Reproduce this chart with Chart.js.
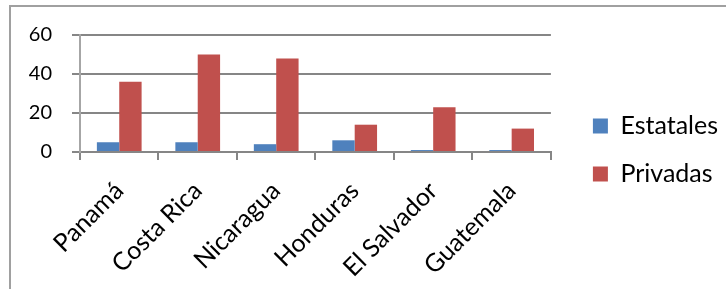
<!DOCTYPE html>
<html>
<head>
<meta charset="utf-8">
<script src="https://cdn.jsdelivr.net/npm/chart.js@4"></script>
<style>
  html, body { margin: 0; padding: 0; background: #fff; }
  #wrap { position: relative; width: 726px; height: 289px; overflow: hidden; }
  #frame { position: absolute; left: 9px; top: 5px; width: 800px; height: 400px;
           border-left: 2px solid #a0a0a0; border-top: 2px solid #a0a0a0; }
  canvas { position: absolute; left: 0; top: 0; }
</style>
</head>
<body>
<div id="wrap">
  <div id="frame"></div>
  <canvas id="chart" width="726" height="289"></canvas>
</div>
<script>
// Data
const countries = ['Panamá', 'Costa Rica', 'Nicaragua', 'Honduras', 'El Salvador', 'Guatemala'];
const estatales = [5, 5, 4, 6, 1, 1];
const privadas = [36, 50, 48, 14, 23, 12];
const yTicks = [0, 20, 40, 60];

const fontFamily = 'Lato, "Open Sans", sans-serif';
const gridColor = '#868686';

// nudge legend right and up like the original
const legendShift = {
    id: 'legendShift',
    afterLayout(chart) {
        const lg = chart.legend;
        lg.left += 19;
        lg.right += 19;
        lg.top -= 12;
        lg.bottom -= 12;
    }
};

document.addEventListener('DOMContentLoaded', function() {
    const ctx = document.getElementById('chart').getContext('2d');
    new Chart(ctx, {
        type: 'bar',
        data: {
            labels: countries,
            datasets: [{
                label: 'Estatales',
                data: estatales,
                backgroundColor: '#4F81BD',
                borderWidth: 0
            }, {
                label: 'Privadas',
                data: privadas,
                backgroundColor: '#C0504D',
                borderWidth: 0
            }]
        },
        options: {
            responsive: false,
            animation: false,
            layout: {
                padding: { left: 0, top: 35, right: 17, bottom: 0 }
            },
            datasets: {
                bar: { categoryPercentage: 0.57, barPercentage: 1.0 }
            },
            plugins: {
                legend: {
                    position: 'right',
                    labels: {
                        boxWidth: 15,
                        boxHeight: 15,
                        padding: 23,
                        color: '#000',
                        font: { family: fontFamily, size: 25 }
                    }
                },
                tooltip: { enabled: false }
            },
            scales: {
                x: {
                    afterFit: function(scale) { scale.height = 137; },
                    grid: {
                        offset: true,
                        drawOnChartArea: false,
                        drawTicks: true,
                        tickLength: 8,
                        lineWidth: 2,
                        color: gridColor
                    },
                    border: { display: true, color: gridColor, width: 2 },
                    ticks: {
                        minRotation: 45,
                        maxRotation: 45,
                        autoSkip: false,
                        color: '#000',
                        padding: 16,
                        font: { family: fontFamily, size: 25 }
                    }
                },
                y: {
                    min: 0,
                    max: 60,
                    afterFit: function(scale) { scale.width = 80; },
                    afterBuildTicks: function(scale) {
                        scale.ticks = yTicks.map(v => ({ value: v }));
                    },
                    grid: {
                        color: gridColor,
                        lineWidth: 2,
                        drawTicks: true,
                        tickLength: 8
                    },
                    border: { display: true, color: '#a6a6a6', width: 2 },
                    ticks: {
                        color: '#000',
                        padding: 20,
                        font: { family: fontFamily, size: 20 }
                    }
                }
            }
        },
        plugins: [legendShift]
    });
});
</script>
</body>
</html>
